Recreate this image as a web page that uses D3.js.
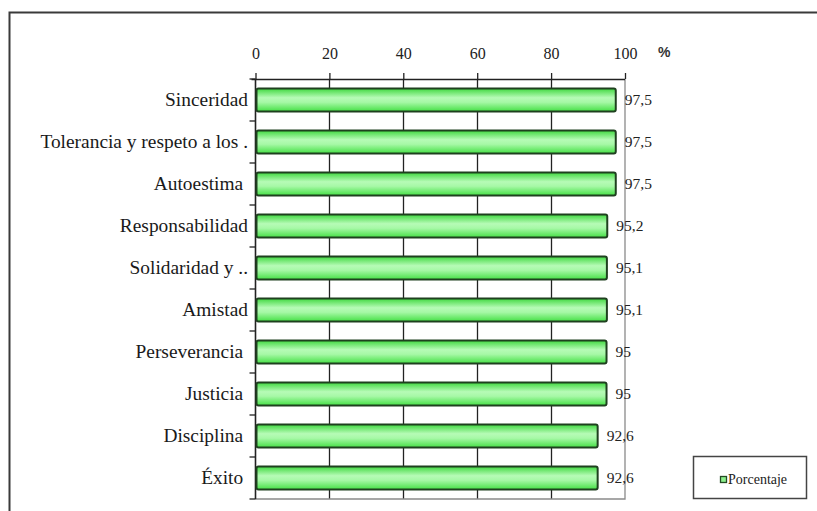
<!DOCTYPE html>
<html>
<head>
<meta charset="utf-8">
<script src="https://cdn.jsdelivr.net/npm/d3@7"></script>
<style>
  html, body { margin: 0; padding: 0; background: #fff; overflow: hidden; }
  svg { display: block; overflow: hidden; }
  text { white-space: pre; }
</style>
</head>
<body>
<svg id="chart" width="817" height="511"></svg>
<script>
// Valores (%) por categoría, de arriba a abajo
const categories = [
  "Sinceridad",
  "Tolerancia y respeto a los .",
  "Autoestima ",
  "Responsabilidad",
  "Solidaridad y ..",
  "Amistad",
  "Perseverancia ",
  "Justicia ",
  "Disciplina ",
  "Éxito "
];
const values = [97.5, 97.5, 97.5, 95.2, 95.1, 95.1, 95, 95, 92.6, 92.6];
const ticks = [0, 20, 40, 60, 80, 100];
const seriesName = "Porcentaje";
const unitLabel = "%";

const svg = d3.select("#chart");
const serif = "'Liberation Serif', 'Times New Roman', serif";

// Marco exterior
svg.append("path")
  .attr("d", "M9.5,530 L9.5,12.5 L840,12.5")
  .attr("fill", "none")
  .attr("stroke", "#3a3a3a")
  .attr("stroke-width", 2);

const plot = { left: 255.5, right: 625, top: 79, bottom: 499 };

const x = d3.scaleLinear().domain([0, 100]).range([plot.left, plot.right]);
const y = d3.scaleBand()
  .domain(categories)
  .range([plot.top, plot.bottom])
  .paddingInner(0.4524)
  .paddingOuter(0.2262);

// Degradado de las barras
const defs = svg.append("defs");
const grad = defs.append("linearGradient")
  .attr("id", "barGrad").attr("x1", 0).attr("y1", 0).attr("x2", 0).attr("y2", 1);
grad.append("stop").attr("offset", "0%").attr("stop-color", "#3fd83f");
grad.append("stop").attr("offset", "40%").attr("stop-color", "#b6fbb6");
grad.append("stop").attr("offset", "60%").attr("stop-color", "#a6f8a6");
grad.append("stop").attr("offset", "100%").attr("stop-color", "#45e045");

// Líneas de cuadrícula verticales
svg.append("g").selectAll("line")
  .data(ticks.filter(t => t > 0 && t < 100))
  .join("line")
  .attr("x1", d => Math.round(x(d)) + 0.5).attr("x2", d => Math.round(x(d)) + 0.5)
  .attr("y1", plot.top).attr("y2", plot.bottom)
  .attr("stroke", "#222").attr("stroke-width", 1.3);

// Bordes derecho e inferior del área de trazado
svg.append("path")
  .attr("d", `M${x(100)},${plot.top} L${x(100)},${plot.bottom} L${x(0)},${plot.bottom}`)
  .attr("fill", "none").attr("stroke", "#8a8a8a").attr("stroke-width", 1.3);

// Eje superior
const xAxis = d3.axisTop(x).tickValues(ticks).tickSize(6).tickPadding(14);
const gx = svg.append("g")
  .attr("transform", `translate(0,${plot.top})`)
  .call(xAxis);
gx.select(".domain").attr("stroke", "#222").attr("stroke-width", 1.5)
  .attr("d", `M${plot.left - 4},0.5H${plot.right}`);
gx.selectAll(".tick line").attr("stroke", "#222").attr("stroke-width", 1.3);
gx.selectAll(".tick text")
  .attr("font-family", serif).attr("font-size", 16).attr("fill", "#222");

// Símbolo de unidad
svg.append("text")
  .attr("x", 658).attr("y", 57)
  .attr("font-family", "'Liberation Sans', Arial, sans-serif")
  .attr("font-size", 14).attr("font-weight", "bold").attr("fill", "#333")
  .text(unitLabel);

// Eje izquierdo: separadores de categoría
const bounds = d3.range(categories.length + 1).map(i => plot.top + i * y.step());
svg.append("g").selectAll("line")
  .data(bounds)
  .join("line")
  .attr("x1", plot.left - 6).attr("x2", plot.left)
  .attr("y1", d => d).attr("y2", d => d)
  .attr("stroke", "#222").attr("stroke-width", 1.3);
svg.append("line")
  .attr("x1", plot.left).attr("x2", plot.left)
  .attr("y1", plot.top).attr("y2", plot.bottom)
  .attr("stroke", "#222").attr("stroke-width", 1.6);

// Etiquetas de categoría
svg.append("g").selectAll("text")
  .data(categories)
  .join("text")
  .attr("x", 248)
  .attr("y", d => y(d) + y.bandwidth() / 2 + 6)
  .attr("text-anchor", "end")
  .attr("font-family", serif).attr("font-size", 19.4).attr("fill", "#1a1a1a")
  .text(d => d);

// Barras
svg.append("g").selectAll("rect")
  .data(values)
  .join("rect")
  .attr("x", x(0) + 1)
  .attr("y", (d, i) => y(categories[i]))
  .attr("width", d => x(d) - x(0) - 1)
  .attr("height", y.bandwidth())
  .attr("rx", 2)
  .attr("fill", "url(#barGrad)")
  .attr("stroke", "#1f401f").attr("stroke-width", 2);

// Etiquetas de valor
const fmt = v => String(v).replace(".", ",");
svg.append("g").selectAll("text")
  .data(values)
  .join("text")
  .attr("x", d => x(d) + 9)
  .attr("y", (d, i) => y(categories[i]) + y.bandwidth() / 2 + 5)
  .attr("font-family", serif).attr("font-size", 15.5).attr("fill", "#222")
  .text(fmt);

// Leyenda
const lg = svg.append("g");
lg.append("rect")
  .attr("x", 693.5).attr("y", 456.5).attr("width", 113).attr("height", 42)
  .attr("fill", "#fff").attr("stroke", "#444").attr("stroke-width", 1.5);
lg.append("rect")
  .attr("x", 720.5).attr("y", 476.5).attr("width", 6).attr("height", 6)
  .attr("fill", "#8cf08c").attr("stroke", "#244a24").attr("stroke-width", 1.3);
lg.append("text")
  .attr("x", 728).attr("y", 484)
  .attr("font-family", serif).attr("font-size", 14).attr("fill", "#222")
  .text(seriesName);
</script>
</body>
</html>
